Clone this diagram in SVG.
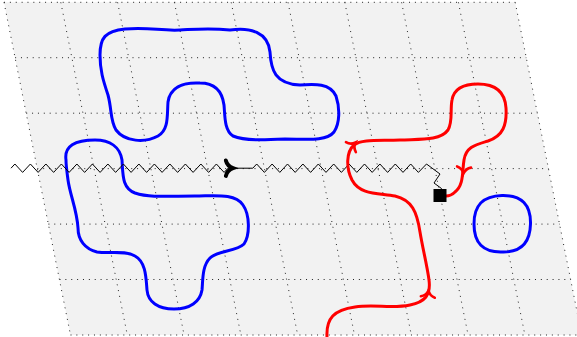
<svg xmlns="http://www.w3.org/2000/svg" width="577" height="337" viewBox="0 0 577 337">
<style>
.grid{fill:none;stroke:#222;stroke-width:1;stroke-dasharray:1 4.87}
.blue{fill:none;stroke:#0000ff;stroke-width:3;stroke-linejoin:round}
.red{fill:none;stroke:#ff0000;stroke-width:3;stroke-linecap:round;stroke-linejoin:round}
.zig{fill:none;stroke:#000;stroke-width:1;stroke-linejoin:miter}
.barb-red{fill:none;stroke:#ff0000;stroke-width:2.6;stroke-linecap:round}
.barb-blk{fill:none;stroke:#000;stroke-width:3.6;stroke-linecap:round}
</style>
<defs>
<path id="barb" d="M -6.5,-7 C -5.5,-3 -2.2,-0.8 0,0 C -2.2,0.8 -5.5,3 -6.5,7"/>
</defs>
<rect width="577" height="337" fill="#fff"/>
<g id="grid">
<polygon points="4,2.3 515.2,2.3 581.7,335 70.5,335" fill="#f2f2f2"/>
<path class="grid" d="M4,2.3H515.2 M15.1,57.7H526.3 M26.2,113.2H537.4 M37.3,168.6H548.5 M48.4,224.1H559.6 M59.5,279.5H570.7 M70.5,335H581.7"/>
<path class="grid" d="M4,2.3L70.5,335 M60.8,2.3L127.3,335 M117.6,2.3L184.1,335 M174.4,2.3L240.9,335 M231.2,2.3L297.7,335 M288,2.3L354.5,335 M344.8,2.3L411.3,335 M401.6,2.3L468.1,335 M458.4,2.3L524.9,335 M515.2,2.3L581.7,335"/>
</g>
<g id="blue-loop-upper">
<path class="blue" d="M 125,29 C 150,27 160,31 180,30 C 200,29 210,28 230,30 C 250,27 268,32 270,52 C 271,70 275,84 300,85 C 315,84 330,83 336,96 C 340,108 340,123 334,132 C 326,142 305,139 285,139 C 265,140 245,141 233,136 C 224,130 225,115 224,105 C 222,90 213,83 200,83 C 182,82 170,88 168,102 C 167,115 169,130 158,136 C 145,143 125,142 116,130 C 110,120 112,110 108,95 C 103,80 100,70 100,55 C 100,38 105,31 125,29 Z"/>
</g>
<g id="blue-loop-lower">
<path class="blue" d="M 66,160 C 64,146 75,140 95,140 C 110,140 120,147 122,160 C 123,175 122,188 135,193 C 150,198 170,196 195,196 C 215,196 235,193 243,205 C 250,215 250,235 244,244 C 236,252 218,250 210,258 C 202,266 203,280 202,290 C 200,302 190,309 174,309 C 158,309 148,302 147,290 C 146,278 146,262 135,256 C 125,250 110,254 97,252 C 85,249 78,240 78,228 C 77,210 70,195 68,180 C 67,172 66,166 66,160 Z"/>
</g>
<g id="blue-loop-small">
<path class="blue" d="M 502,195.5 C 522,195 531,205 530.5,224 C 530,243 521,252.5 502,252 C 483,252.5 474,243 474,224 C 474,205 483,196 502,195.5 Z"/>
</g>
<g id="connectors">
<path class="zig" d="M11,168.2 L14.9,164 L22.6,172.4 L30.4,164 L38.1,172.4 L45.9,164 L53.6,172.4 L61.4,164 L69.1,172.4 L76.9,164 L84.6,172.4 L92.4,164 L100.1,172.4 L107.9,164 L115.6,172.4 L123.4,164 L131.1,172.4 L138.9,164 L146.6,172.4 L154.4,164 L162.1,172.4 L169.9,164 L177.6,172.4 L185.4,164 L193.1,172.4 L200.9,164 L208.6,172.4 L216.4,164 L224.1,172.4 L228,168.2 L252.8,168.2 L256.7,164 L264.4,172.4 L272.1,164 L279.8,172.4 L287.5,164 L295.2,172.4 L302.9,164 L310.6,172.4 L318.3,164 L326,172.4 L333.7,164 L341.4,172.4 L349.1,164 L356.8,172.4 L364.5,164 L372.2,172.4 L379.9,164 L387.6,172.4 L395.3,164 L403,172.4 L410.7,164 L418.4,172.4 L426.5,164 L440,174 L434,183 L441.5,188.5 L440,190"/>
<use href="#barb" class="barb-blk" transform="translate(233,168.2) scale(1.1)"/>
<path class="red" d="M 327,337 C 326,318 334,310 355,307 C 375,304 392,309 410,305 C 425,302 431,295 429,280 C 427,265 423,250 420,232 C 417,212 412,200 395,196 C 378,193 360,195 352,180 C 346,168 346,152 354,145 C 362,139 380,141 400,140 C 420,139 440,141 448,130 C 453,122 450,110 452,100 C 454,88 464,84 478,84 C 495,84 505,92 506,108 C 507,125 503,136 488,141 C 475,145 466,147 464,160 C 462,172 464,185 455,192 C 452,195 449,196 446,196"/>
<use href="#barb" class="barb-red" transform="translate(428.5,290.5) rotate(-84)"/>
<use href="#barb" class="barb-red" transform="translate(355.5,142.5) rotate(-45)"/>
<use href="#barb" class="barb-red" transform="translate(463.5,173.5) rotate(95)"/>
</g>
<g id="square-node">
<rect x="433.5" y="189" width="13" height="13" fill="#000"/>
</g>
</svg>
